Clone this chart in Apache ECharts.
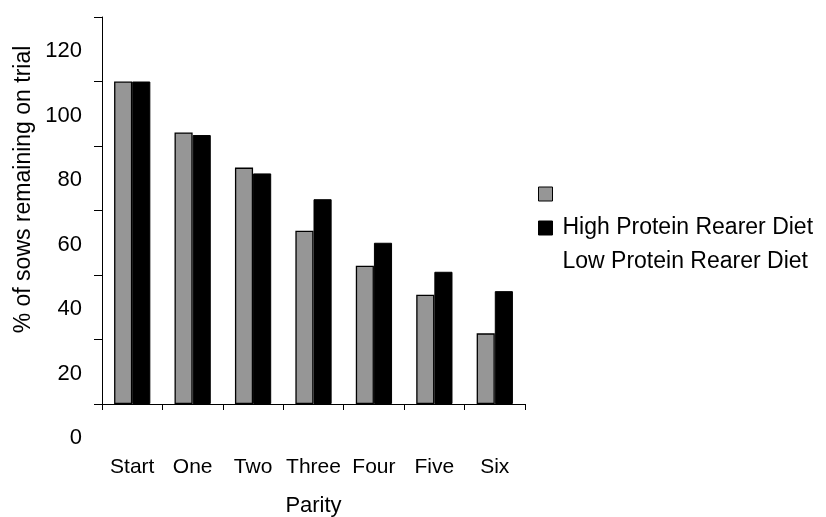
<!DOCTYPE html>
<html>
<head>
<meta charset="utf-8">
<script src="https://cdn.jsdelivr.net/npm/echarts@6/dist/echarts.min.js"></script>
<style>html,body{margin:0;padding:0;background:#fff;}#c{width:826px;height:517px;}</style>
</head>
<body>
<div id="c"></div>
<script>
var categories = ['Start', 'One', 'Two', 'Three', 'Four', 'Five', 'Six'];
var greyValues = [100, 84.2, 73.3, 53.7, 42.9, 33.9, 21.9];
var blackValues = [100, 83.4, 71.5, 63.5, 50.0, 41.0, 35.0];
var seriesNames = ['High Protein Rearer Diet', 'Low Protein Rearer Diet', 'legendNote'];
var legendLabels = ['\u00a0', 'High Protein Rearer Diet', 'Low Protein Rearer Diet'];
var yTicks = [0, 20, 40, 60, 80, 100, 120];

var FONT = 'Liberation Sans, Arial, sans-serif';
var chart = echarts.init(document.getElementById('c'), null, {renderer: 'canvas'});
chart.setOption({
  animation: false,
  backgroundColor: '#fff',
  grid: [
    {left: 102, right: 301, top: 17, bottom: 113, containLabel: false, outerBoundsMode: 'none'},
    {left: 102, right: 301, top: 51, bottom: 79, containLabel: false, outerBoundsMode: 'none'}
  ],
  legend: {
    orient: 'vertical',
    left: 533,
    top: 177,
    padding: 5,
    itemWidth: 14,
    itemHeight: 14,
    itemGap: 10,
    selectedMode: false,
    textStyle: {fontFamily: FONT, fontSize: 23, color: '#000', lineHeight: 24, padding: [0, 0, 0, 5]},
    formatter: function (name) { return legendLabels[seriesNames.indexOf(name)]; },
    data: [
      {name: seriesNames[0], icon: 'rect', itemStyle: {color: '#969696', borderColor: '#000', borderWidth: 1}},
      {name: seriesNames[1], icon: 'rect', itemStyle: {color: '#000', borderColor: '#000', borderWidth: 1}},
      {name: seriesNames[2], icon: 'rect', itemStyle: {opacity: 0}}
    ]
  },
  xAxis: [
    {
      gridIndex: 0,
      type: 'category',
      data: categories,
      boundaryGap: true,
      name: 'Parity',
      nameLocation: 'middle',
      nameGap: 91,
      nameTextStyle: {fontFamily: FONT, fontSize: 22, color: '#000', verticalAlign: 'top'},
      axisLine: {lineStyle: {color: '#000', width: 1}},
      axisTick: {show: true, length: 6, lineStyle: {color: '#000'}},
      axisLabel: {fontFamily: FONT, fontSize: 21, color: '#000', margin: 53, interval: 0}
    },
    {
      gridIndex: 1,
      type: 'category',
      data: categories,
      show: false
    }
  ],
  yAxis: [
    {
      gridIndex: 0,
      type: 'value',
      min: yTicks[0],
      max: yTicks[yTicks.length - 1],
      interval: 20,
      name: '% of sows remaining on trial',
      nameLocation: 'middle',
      nameGap: 67,
      nameRotate: 90,
      nameTextStyle: {fontFamily: FONT, fontSize: 23, color: '#000', padding: [0, 0, 0, 42]},
      axisLine: {show: true, lineStyle: {color: '#000', width: 1}},
      axisTick: {show: true, length: 8, lineStyle: {color: '#000'}},
      splitLine: {show: false},
      axisLabel: {show: false}
    },
    {
      gridIndex: 1,
      type: 'value',
      min: yTicks[0],
      max: yTicks[yTicks.length - 1],
      interval: 20,
      axisLine: {show: false},
      axisTick: {show: false},
      splitLine: {show: false},
      axisLabel: {
        fontFamily: FONT, fontSize: 22, color: '#000', margin: 20,
        showMinLabel: true, showMaxLabel: true
      }
    }
  ],
  series: [
    {
      name: seriesNames[0], type: 'bar', data: greyValues,
      barGap: '0%', barCategoryGap: '40%',
      itemStyle: {color: '#969696', borderColor: '#000', borderWidth: 1.3}
    },
    {
      name: seriesNames[1], type: 'bar', data: blackValues,
      barGap: '0%', barCategoryGap: '40%',
      itemStyle: {color: '#000', borderColor: '#000', borderWidth: 1}
    },
    {
      name: seriesNames[2], type: 'line', data: [], showSymbol: false,
      lineStyle: {opacity: 0}, itemStyle: {opacity: 0}
    }
  ]
});
</script>
</body>
</html>
